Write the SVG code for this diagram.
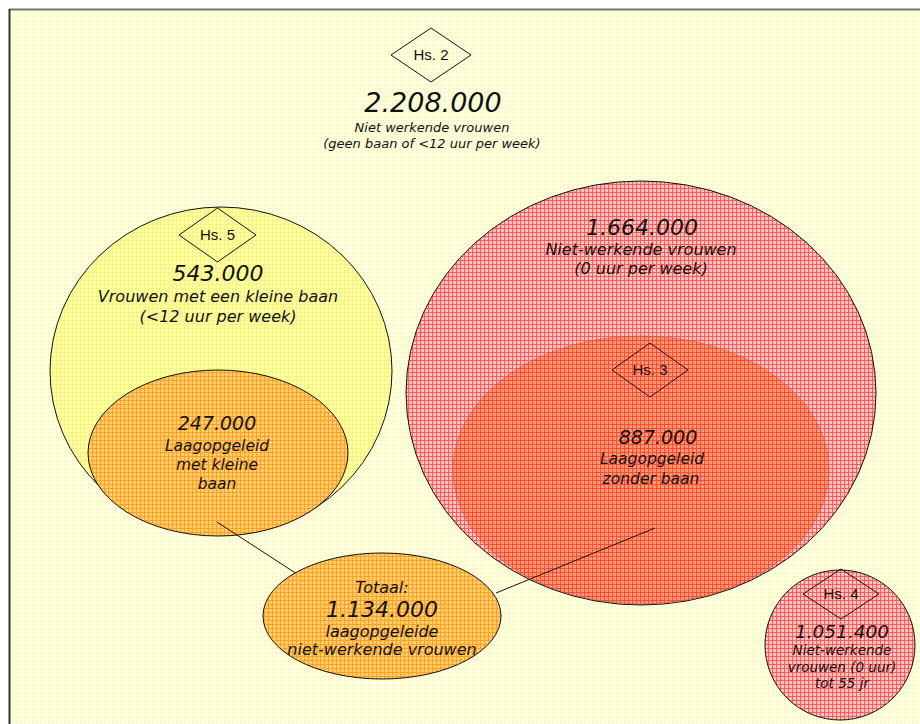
<svg xmlns="http://www.w3.org/2000/svg" width="920" height="724" viewBox="0 0 920 724">
<defs>
  <pattern id="pBg" width="4" height="4" patternUnits="userSpaceOnUse">
    <rect width="4" height="4" fill="#FFFFE2"/>
    <path d="M0 0.5H4M0.5 0V4" stroke="#FAFAC8" stroke-width="1"/>
  </pattern>
  <pattern id="pYel" width="4" height="4" patternUnits="userSpaceOnUse">
    <rect width="4" height="4" fill="#FFFFA6"/>
    <path d="M0 0.5H4M0.5 0V4" stroke="#F5F580" stroke-width="1"/>
  </pattern>
  <pattern id="pOr" width="4" height="4" patternUnits="userSpaceOnUse">
    <rect width="4" height="4" fill="#FFCC70"/>
    <path d="M0 0.5H4M0.5 0V4" stroke="#FFA020" stroke-width="1"/>
  </pattern>
  <pattern id="pRed" width="4" height="4" patternUnits="userSpaceOnUse">
    <rect width="4" height="4" fill="#FFC4C0"/>
    <path d="M0 0.5H4M0.5 0V4" stroke="#FF5A5A" stroke-width="1"/>
  </pattern>
  <pattern id="pRed2" width="4" height="4" patternUnits="userSpaceOnUse">
    <rect width="4" height="4" fill="#FF9A70"/>
    <path d="M0 0.5H4M0.5 0V4" stroke="#FF4A3A" stroke-width="1"/>
  </pattern>
</defs>
<style>
  .v { font-family: "DejaVu Sans", Verdana, sans-serif; font-style: italic; fill: #111; text-anchor: middle; }
  .hs { font-family: "Liberation Sans", Arial, sans-serif; font-size: 15px; fill: #111; text-anchor: middle; }
  .dia { fill: none; stroke: #111; stroke-width: 1; }
  .node { stroke: #111; stroke-width: 1; }
  .conn { stroke: #111; stroke-width: 1; fill: none; }
</style>
<rect x="0" y="0" width="920" height="724" fill="#FFFFFF"/>
<rect x="9" y="9" width="911" height="715" fill="url(#pBg)"/>
<line x1="9" y1="9.5" x2="920" y2="9.5" stroke="#77776A" stroke-width="2"/>
<line x1="9.5" y1="9" x2="9.5" y2="724" stroke="#333333" stroke-width="2"/>

<g id="total-top">
  <polygon class="dia" points="391,55 431,28 471,55 431,82"/>
  <text class="hs" x="431" y="60">Hs. 2</text>
  <text class="v" x="433" y="112" font-size="27">2.208.000</text>
  <text class="v" x="432" y="132" font-size="13">Niet werkende vrouwen</text>
  <text class="v" x="432" y="148" font-size="13">(geen baan of &lt;12 uur per week)</text>
</g>

<g id="kleine-baan">
  <ellipse class="node" cx="221" cy="371" rx="171" ry="164" fill="url(#pYel)"/>
  <polygon class="dia" points="179,235 217.5,208 256,235 217.5,262"/>
  <text class="hs" x="217.5" y="240">Hs. 5</text>
  <text class="v" x="218" y="281" font-size="22">543.000</text>
  <text class="v" x="218" y="302" font-size="16">Vrouwen met een kleine baan</text>
  <text class="v" x="218" y="322" font-size="16">(&lt;12 uur per week)</text>
</g>

<g id="laag-kleine-baan">
  <ellipse class="node" cx="218" cy="453" rx="130" ry="83" fill="url(#pOr)"/>
  <text class="v" x="217" y="430" font-size="19">247.000</text>
  <text class="v" x="217" y="451" font-size="15.5">Laagopgeleid</text>
  <text class="v" x="217" y="470" font-size="15.5">met kleine</text>
  <text class="v" x="217" y="489" font-size="15.5">baan</text>
</g>

<g id="niet-werkend">
  <ellipse class="node" cx="641" cy="393" rx="235" ry="212" fill="url(#pRed)"/>
  <text class="v" x="642" y="235" font-size="22">1.664.000</text>
  <text class="v" x="641" y="255" font-size="16">Niet-werkende vrouwen</text>
  <text class="v" x="641" y="274" font-size="16">(0 uur per week)</text>
</g>

<g id="laag-zonder-baan">
  <ellipse cx="641" cy="470" rx="188" ry="134" fill="url(#pRed2)" stroke="#B06050" stroke-width="0.8" stroke-opacity="0.8"/>
  <polygon class="dia" points="612,370 650,343 688,370 650,397"/>
  <text class="hs" x="650" y="375">Hs. 3</text>
  <text class="v" x="658" y="444" font-size="19">887.000</text>
  <text class="v" x="652" y="464" font-size="15.5">Laagopgeleid</text>
  <text class="v" x="651" y="484" font-size="15.5">zonder baan</text>
</g>

<g id="tot-55">
  <circle class="node" cx="840" cy="645" r="75" fill="url(#pRed)"/>
  <polygon class="dia" points="803,594 841,569 879,594 841,619"/>
  <text class="hs" x="841" y="599">Hs. 4</text>
  <text class="v" x="842" y="638" font-size="18.5">1.051.400</text>
  <text class="v" x="842" y="655" font-size="13.5">Niet-werkende</text>
  <text class="v" x="842" y="672" font-size="13.5">vrouwen (0 uur)</text>
  <text class="v" x="842" y="688" font-size="13.5">tot 55 jr</text>
</g>

<g id="connectors">
  <line class="conn" x1="217" y1="522" x2="297" y2="574"/>
  <line class="conn" x1="655" y1="528" x2="496" y2="593"/>
</g>

<g id="totaal">
  <ellipse class="node" cx="382" cy="616" rx="119" ry="63" fill="url(#pOr)"/>
  <text class="v" x="382" y="593" font-size="16">Totaal:</text>
  <text class="v" x="382" y="617" font-size="22">1.134.000</text>
  <text class="v" x="382" y="637" font-size="16">laagopgeleide</text>
  <text class="v" x="382" y="655" font-size="16">niet-werkende vrouwen</text>
</g>
</svg>
